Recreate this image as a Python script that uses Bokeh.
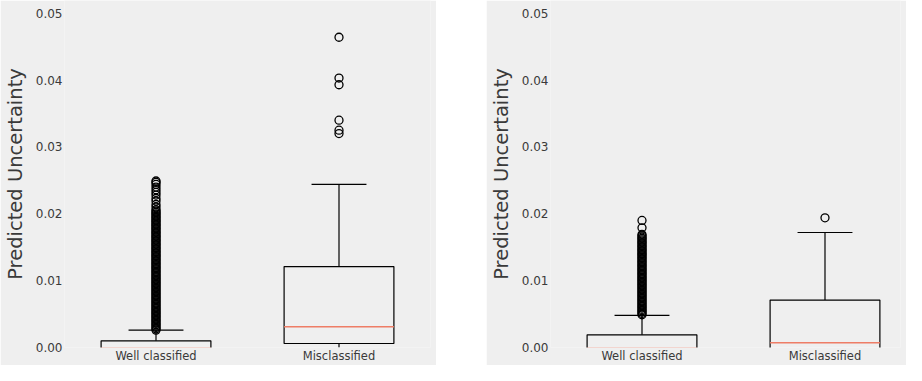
from bokeh.plotting import figure
from bokeh.layouts import row
from bokeh.models import FixedTicker, NumeralTickFormatter, Spacer, Range1d
from bokeh.embed import file_html
from bokeh.resources import INLINE

# ---------------- data ----------------
categories = ["Well classified", "Misclassified"]
positions = [1, 2]
y_ticks = [0.0, 0.01, 0.02, 0.03, 0.04, 0.05]

# left panel box statistics (per category)
a_q1 = [-0.0002, 0.0006]
a_med = [-0.0001, 0.0031]
a_q3 = [0.0010, 0.0121]
a_lo = [-0.0004, 0.0000]
a_hi = [0.0026, 0.0244]
a_out_well = [0.0026, 0.0028, 0.0030, 0.0032, 0.0034, 0.0036, 0.0038, 0.0040, 0.0042, 0.0044,
              0.0046, 0.0048, 0.0050, 0.0052, 0.0054, 0.0056, 0.0058, 0.0060, 0.0062, 0.0064,
              0.0066, 0.0068, 0.0070, 0.0072, 0.0074, 0.0076, 0.0078, 0.0080, 0.0082, 0.0084,
              0.0086, 0.0088, 0.0090, 0.0092, 0.0094, 0.0096, 0.0098, 0.0100, 0.0102, 0.0104,
              0.0106, 0.0108, 0.0110, 0.0112, 0.0114, 0.0116, 0.0118, 0.0120, 0.0122, 0.0124,
              0.0126, 0.0128, 0.0130, 0.0132, 0.0134, 0.0136, 0.0138, 0.0140, 0.0142, 0.0144,
              0.0146, 0.0148, 0.0150, 0.0152, 0.0154, 0.0156, 0.0158, 0.0160, 0.0162, 0.0164,
              0.0166, 0.0168, 0.0170, 0.0172, 0.0174, 0.0176, 0.0178, 0.0180, 0.0182, 0.0184,
              0.0186, 0.0188, 0.0190, 0.0192, 0.0194, 0.0196, 0.0198, 0.0200, 0.0202, 0.0204,
              0.0206, 0.0210, 0.0214, 0.0219, 0.0223, 0.0228, 0.0232, 0.0236, 0.0240, 0.0244,
              0.0247, 0.0249]
a_out_mis = [0.0320, 0.0325, 0.0340, 0.0393, 0.0403, 0.0464]

# right panel box statistics (per category)
b_q1 = [-0.0002, -0.0002]
b_med = [-0.0001, 0.0007]
b_q3 = [0.0019, 0.0071]
b_lo = [-0.0004, -0.0004]
b_hi = [0.0048, 0.0172]
b_out_well = [0.0049, 0.0051, 0.0053, 0.0055, 0.0057, 0.0059, 0.0061, 0.0063, 0.0065, 0.0067,
              0.0069, 0.0071, 0.0073, 0.0075, 0.0077, 0.0079, 0.0081, 0.0083, 0.0085, 0.0087,
              0.0089, 0.0091, 0.0093, 0.0095, 0.0097, 0.0099, 0.0101, 0.0103, 0.0105, 0.0107,
              0.0109, 0.0111, 0.0113, 0.0115, 0.0117, 0.0119, 0.0121, 0.0123, 0.0125, 0.0127,
              0.0129, 0.0131, 0.0133, 0.0135, 0.0137, 0.0139, 0.0141, 0.0143, 0.0145, 0.0147,
              0.0149, 0.0151, 0.0153, 0.0155, 0.0157, 0.0159, 0.0161, 0.0163, 0.0165, 0.0167,
              0.0169, 0.0179, 0.0190]
b_out_mis = [0.0194]

BG = "#efefef"
TXT = "#3a3a3a"
MED = "#ee7d66"
BOX_HALF = 0.3
CAP_HALF = 0.15


def make_panel(q1, med, q3, lo, hi, out_well, out_mis, width, x_end):
    p = figure(width=width, height=365,
               x_range=Range1d(0.5, x_end), y_range=Range1d(0.0, 0.0519),
               output_backend="svg", toolbar_location=None,
               min_border_left=64, min_border_right=6,
               min_border_top=0, min_border_bottom=4)
    p.background_fill_color = BG
    p.border_fill_color = BG
    p.outline_line_color = None
    p.grid.visible = False

    left = [x - BOX_HALF for x in positions]
    right = [x + BOX_HALF for x in positions]
    c0 = [x - CAP_HALF for x in positions]
    c1 = [x + CAP_HALF for x in positions]

    # whiskers
    p.segment(x0=positions, x1=positions, y0=q3, y1=hi, line_color="black", line_width=1.2)
    p.segment(x0=positions, x1=positions, y0=q1, y1=lo, line_color="black", line_width=1.2)
    p.segment(x0=c0, x1=c1, y0=hi, y1=hi, line_color="black", line_width=1.2)
    # boxes
    p.quad(left=left, right=right, bottom=q1, top=q3, fill_color=None,
           line_color="black", line_width=1.2)
    # medians
    p.segment(x0=left, x1=right, y0=med, y1=med, line_color=MED, line_width=1.5)
    # outliers
    ox = [positions[0]] * len(out_well) + [positions[1]] * len(out_mis)
    oy = list(out_well) + list(out_mis)
    p.scatter(x=ox, y=oy, marker="circle", size=8, fill_color=None,
              line_color="black", line_width=1.3)

    # axes
    p.yaxis.ticker = FixedTicker(ticks=y_ticks)
    p.yaxis.formatter = NumeralTickFormatter(format="0.00")
    p.yaxis.axis_label = "Predicted Uncertainty"
    p.yaxis.axis_label_text_font = "DejaVu Sans"
    p.yaxis.axis_label_text_font_size = "19.5px"
    p.yaxis.axis_label_text_font_style = "normal"
    p.yaxis.axis_label_text_color = TXT
    p.yaxis.axis_label_standoff = 6
    p.yaxis.major_label_standoff = 2

    p.xaxis.ticker = FixedTicker(ticks=positions)
    p.xaxis.major_label_overrides = {positions[i]: categories[i] for i in range(len(categories))}
    p.xaxis.major_label_standoff = 1

    for ax in (p.xaxis, p.yaxis):
        ax.axis_line_color = None
        ax.major_tick_in = 0
        ax.major_tick_out = 0
        ax.minor_tick_line_color = None
        ax.major_label_text_font = "DejaVu Sans"
        ax.major_label_text_color = TXT
    p.yaxis.major_label_text_font_size = "12px"
    p.xaxis.major_label_text_font_size = "11.5px"
    return p


p1 = make_panel(a_q1, a_med, a_q3, a_lo, a_hi, a_out_well, a_out_mis, 436, 2.5)
p2 = make_panel(b_q1, b_med, b_q3, b_lo, b_hi, b_out_well, b_out_mis, 420, 2.4126)

layout = row(p1, Spacer(width=50, height=365), p2)
open("out.html", "w").write(file_html(layout, INLINE))
